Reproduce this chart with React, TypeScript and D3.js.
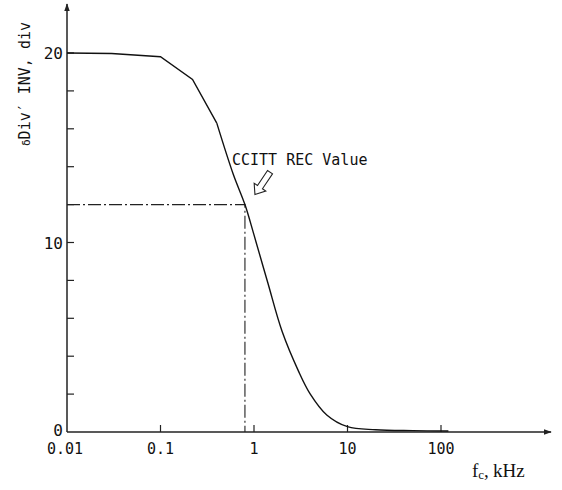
import React, { useEffect, useRef } from 'react'
import * as d3 from 'd3'

// cutoff frequency (kHz) vs. deviation
const freqs = [0.01, 0.03, 0.1, 0.22, 0.4, 0.6, 0.8, 1, 1.4, 2, 3, 4, 6, 10, 20, 50, 120]
const divs = [20, 19.97, 19.8, 18.6, 16.3, 13.6, 12, 10.4, 7.9, 5.3, 3.2, 2.0, 0.9, 0.28, 0.12, 0.07, 0.05]
const kinkEnd = 4 // the curve is drawn straight up to 0.4 kHz, smooth after
const xTicks = [0.01, 0.1, 1, 10, 100]
const xTickLabels = ['0.01', '0.1', '1', '10', '100']
const yTicks = [0, 2, 4, 6, 8, 10, 12, 14, 16, 18, 20]
const yTickLabels = ['0', '10', '20']
const recFreq = 0.8
const recValue = 12

const App = () => {
    const ref = useRef(null)

    useEffect(() => {
        const svg = d3.select(ref.current)
        svg.selectAll('*').remove()

        const x = d3.scaleLog().domain([0.01, 100]).range([67, 441])
        const y = d3.scaleLinear().domain([0, 20]).range([432, 53])
        const mono = "'DejaVu Sans Mono', monospace"

        // axes with arrows
        svg.append('defs').append('marker')
            .attr('id', 'arr')
            .attr('viewBox', '0 0 10 10')
            .attr('refX', 9).attr('refY', 5)
            .attr('markerWidth', 8).attr('markerHeight', 8)
            .attr('markerUnits', 'userSpaceOnUse')
            .attr('orient', 'auto')
            .append('path').attr('d', 'M0,1.5 L10,5 L0,8.5 Z').attr('fill', '#222')

        svg.append('line')
            .attr('x1', x(0.01)).attr('y1', y(0))
            .attr('x2', 551).attr('y2', y(0))
            .attr('stroke', '#222').attr('stroke-width', 1.5)
            .attr('marker-end', 'url(#arr)')
        svg.append('line')
            .attr('x1', x(0.01)).attr('y1', y(0))
            .attr('x2', x(0.01)).attr('y2', 4)
            .attr('stroke', '#222').attr('stroke-width', 1.5)
            .attr('marker-end', 'url(#arr)')

        // ticks point inward
        svg.selectAll('.xt').data(xTicks.slice(1)).enter().append('line')
            .attr('x1', d => x(d)).attr('x2', d => x(d))
            .attr('y1', y(0)).attr('y2', y(0) - 7)
            .attr('stroke', '#222').attr('stroke-width', 1.2)
        svg.selectAll('.yt').data(yTicks.slice(1)).enter().append('line')
            .attr('x1', x(0.01)).attr('x2', x(0.01) + 7)
            .attr('y1', d => y(d)).attr('y2', d => y(d))
            .attr('stroke', '#222').attr('stroke-width', 1.2)

        svg.selectAll('.xl').data(xTicks).enter().append('text')
            .attr('x', d => x(d) - (d === 0.01 ? 2 : 0))
            .attr('y', 454)
            .attr('text-anchor', 'middle')
            .attr('font-family', mono).attr('font-size', 15).attr('fill', '#111')
            .text((d, i) => xTickLabels[i])
        svg.selectAll('.yl').data(yTickLabels).enter().append('text')
            .attr('x', 63)
            .attr('y', d => y(+d) + (d === '0' ? 4 : 6))
            .attr('text-anchor', 'end')
            .attr('font-family', mono).attr('font-size', 16).attr('fill', '#111')
            .text(d => d)

        // axis titles
        const yt = svg.append('text')
            .attr('transform', 'translate(30,84) rotate(-90)')
            .attr('text-anchor', 'middle')
            .attr('font-family', mono).attr('font-size', 15).attr('fill', '#111')
        yt.append('tspan').attr('font-size', 11).text('δ')
        yt.append('tspan').text('Div′ INV, div')

        const xt = svg.append('text')
            .attr('x', 472).attr('y', 477)
            .attr('font-family', "'Liberation Serif', serif").attr('font-size', 19).attr('fill', '#111')
        xt.append('tspan').text('f')
        xt.append('tspan').attr('font-size', 13).attr('dy', 2).text('c')
        xt.append('tspan').attr('dy', -2).text(',')
        xt.append('tspan').attr('x', 493).text('kHz')

        // CCITT reference lines
        svg.append('path')
            .attr('d', `M${x(0.01)},${y(recValue)} H${x(recFreq)} V${y(0)}`)
            .attr('fill', 'none').attr('stroke', '#222').attr('stroke-width', 1.1)
            .attr('stroke-dasharray', '13,3,2,3')

        // curve: straight segments on top, smooth roll-off below
        const pts = freqs.map((f, i) => [f, divs[i]])
        const top = d3.line().x(d => x(d[0])).y(d => y(d[1])).curve(d3.curveLinear)
        const low = d3.line().x(d => x(d[0])).y(d => y(d[1])).curve(d3.curveCatmullRom.alpha(0.5))
        svg.append('path')
            .attr('d', top(pts.slice(0, kinkEnd + 1)))
            .attr('fill', 'none').attr('stroke', '#111').attr('stroke-width', 1.4)
        svg.append('path')
            .attr('d', low(pts.slice(kinkEnd)))
            .attr('fill', 'none').attr('stroke', '#111').attr('stroke-width', 1.4)

        // annotation
        svg.append('text')
            .attr('x', 232).attr('y', 165)
            .attr('font-family', mono).attr('font-size', 15).attr('fill', '#111')
            .text('CCITT REC Value')
        svg.append('path')
            .attr('transform', `translate(${x(recFreq) + 10},${y(recValue) - 10}) rotate(124)`)
            .attr('d', 'M0,0 L-9,-7 L-9,-3 L-27,-3 L-27,3 L-9,3 L-9,7 Z')
            .attr('fill', 'white').attr('stroke', '#222').attr('stroke-width', 1.1)
    })

    return (
        <svg ref={ref} width={562} height={490}
            style={{ position: 'absolute', left: 0, top: 0, background: 'white' }} />
    )
}

export default App
